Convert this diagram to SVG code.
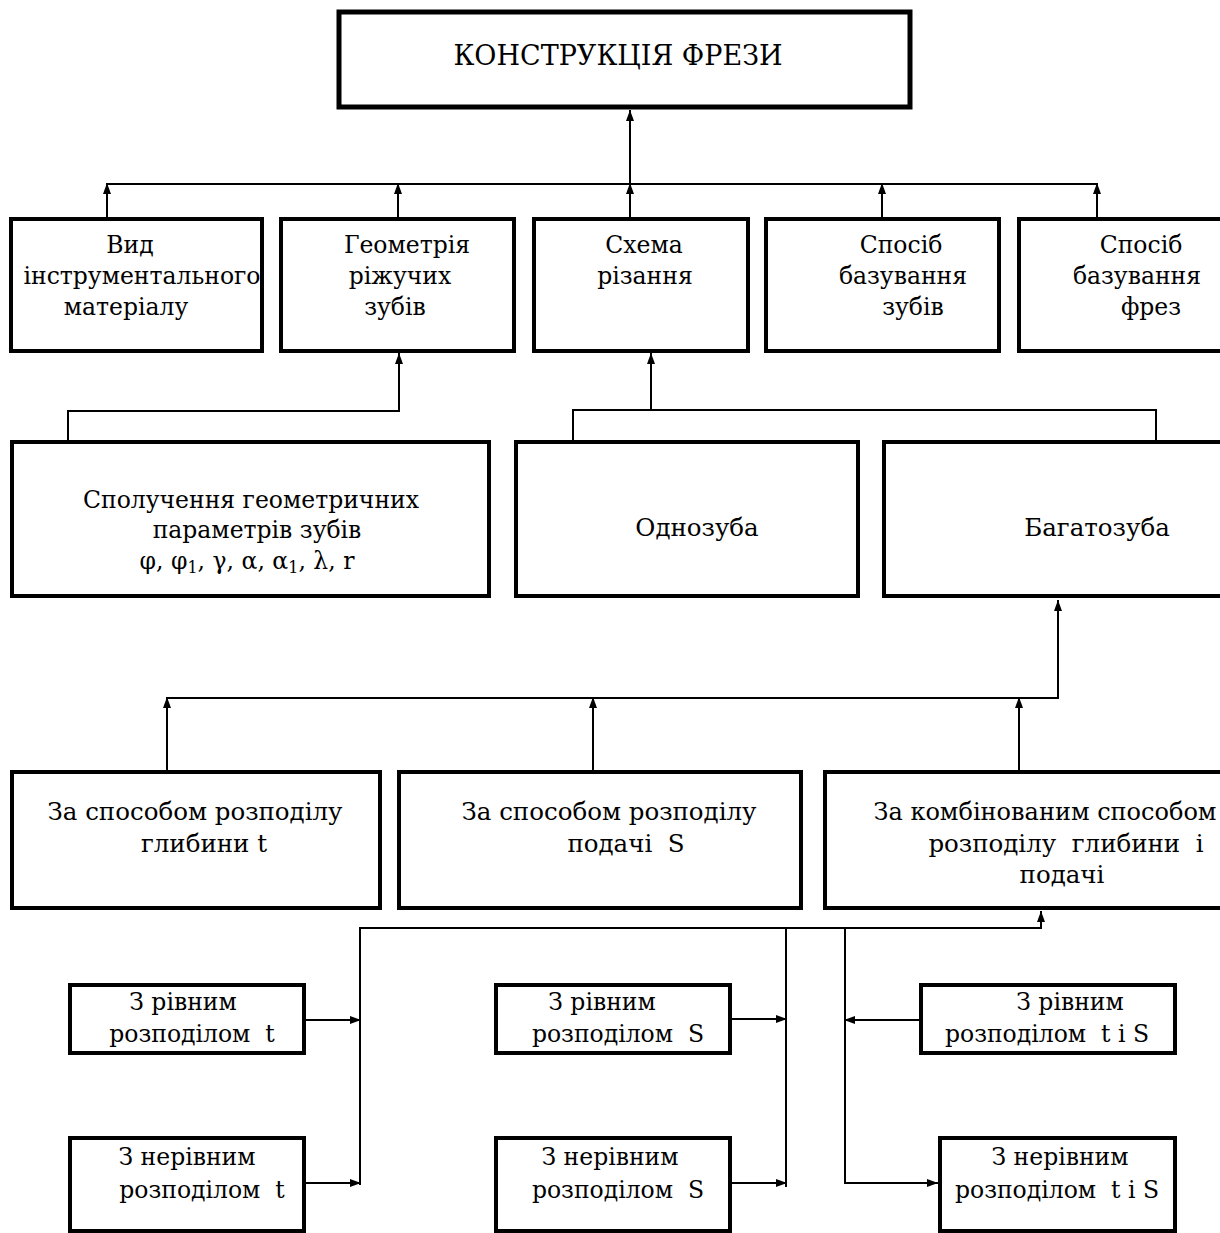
<svg xmlns="http://www.w3.org/2000/svg" width="1220" height="1233" viewBox="0 0 1220 1233">
<defs>
<marker id="ah" markerUnits="userSpaceOnUse" markerWidth="12" markerHeight="10" refX="11" refY="5" orient="auto">
<path d="M0,1 L11,5 L0,9 z" fill="#000"/>
</marker>
<style>
.box{fill:#fff;stroke:#000;stroke-width:4}
.ln{fill:none;stroke:#000;stroke-width:2}
.t{font-family:"DejaVu Serif","Liberation Serif",serif;font-size:23.5px;text-anchor:middle;fill:#000}
.b{font-size:24.5px}
</style>
</defs>
<rect width="1220" height="1233" fill="#fff"/>
<g id="connectors">
<line class="ln" x1="630" y1="184" x2="630" y2="110" marker-end="url(#ah)"/>
<line class="ln" x1="107" y1="184" x2="1097" y2="184"/>
<line class="ln" x1="107" y1="217" x2="107" y2="183" marker-end="url(#ah)"/>
<line class="ln" x1="398" y1="217" x2="398" y2="183" marker-end="url(#ah)"/>
<line class="ln" x1="630" y1="217" x2="630" y2="183" marker-end="url(#ah)"/>
<line class="ln" x1="882" y1="217" x2="882" y2="183" marker-end="url(#ah)"/>
<line class="ln" x1="1097" y1="217" x2="1097" y2="183" marker-end="url(#ah)"/>
<polyline class="ln" points="68,440 68,411 399,411 399,353" marker-end="url(#ah)"/>
<polyline class="ln" points="573,440 573,410 1156,410 1156,440"/>
<line class="ln" x1="651" y1="410" x2="651" y2="353" marker-end="url(#ah)"/>
<polyline class="ln" points="167,698 1058,698 1058,600" marker-end="url(#ah)"/>
<line class="ln" x1="167" y1="770" x2="167" y2="697" marker-end="url(#ah)"/>
<line class="ln" x1="593" y1="770" x2="593" y2="697" marker-end="url(#ah)"/>
<line class="ln" x1="1019" y1="770" x2="1019" y2="697" marker-end="url(#ah)"/>
<polyline class="ln" points="360,1185 360,928 1041,928 1041,911" marker-end="url(#ah)"/>
<line class="ln" x1="786" y1="928" x2="786" y2="1187"/>
<polyline class="ln" points="845,928 845,1183 938,1183" marker-end="url(#ah)"/>
<line class="ln" x1="306" y1="1020" x2="361" y2="1020" marker-end="url(#ah)"/>
<line class="ln" x1="306" y1="1183" x2="361" y2="1183" marker-end="url(#ah)"/>
<line class="ln" x1="732" y1="1019" x2="787" y2="1019" marker-end="url(#ah)"/>
<line class="ln" x1="732" y1="1183" x2="787" y2="1183" marker-end="url(#ah)"/>
<line class="ln" x1="919" y1="1020" x2="844" y2="1020" marker-end="url(#ah)"/>
</g>
<g id="n-top">
<rect class="box" x="339" y="12" width="571" height="95" style="stroke-width:5"/>
<text class="t" x="618" y="65" style="font-size:27px">КОНСТРУКЦІЯ ФРЕЗИ</text>
</g>
<g id="n-vid">
<rect class="box" x="11" y="219" width="251" height="132"/>
<text class="t" x="130" y="253">Вид</text>
<text class="t" x="142" y="284">інструментального</text>
<text class="t" x="126" y="315">матеріалу</text>
</g>
<g id="n-geom">
<rect class="box" x="281" y="219" width="233" height="132"/>
<text class="t" x="407" y="253">Геометрія</text>
<text class="t" x="400" y="284">ріжучих</text>
<text class="t" x="395" y="315">зубів</text>
</g>
<g id="n-schema">
<rect class="box" x="534" y="219" width="214" height="132"/>
<text class="t" x="644" y="253">Схема</text>
<text class="t" x="645" y="284">різання</text>
</g>
<g id="n-baz-zub">
<rect class="box" x="766" y="219" width="233" height="132"/>
<text class="t" x="901" y="253">Спосіб</text>
<text class="t" x="903" y="284">базування</text>
<text class="t" x="913" y="315">зубів</text>
</g>
<g id="n-baz-frez">
<rect class="box" x="1019" y="219" width="210" height="132"/>
<text class="t" x="1141" y="253">Спосіб</text>
<text class="t" x="1137" y="284">базування</text>
<text class="t" x="1151" y="315">фрез</text>
</g>
<g id="n-spol">
<rect class="box" x="12" y="442" width="477" height="154"/>
<text class="t" x="251" y="508">Сполучення геометричних</text>
<text class="t" x="257" y="538">параметрів зубів</text>
<text class="t" x="247" y="569">φ, φ<tspan font-size="16" dy="4">1</tspan><tspan dy="-4">, γ, α, α</tspan><tspan font-size="16" dy="4">1</tspan><tspan dy="-4">, λ, r</tspan></text>
</g>
<g id="n-odno">
<rect class="box" x="516" y="442" width="342" height="154"/>
<text class="t b" x="697" y="536">Однозуба</text>
</g>
<g id="n-bagato">
<rect class="box" x="884" y="442" width="345" height="154"/>
<text class="t b" x="1097" y="536">Багатозуба</text>
</g>
<g id="n-glyb">
<rect class="box" x="12" y="772" width="368" height="136"/>
<text class="t b" x="195" y="820">За способом розподілу</text>
<text class="t b" x="204" y="852">глибини t</text>
</g>
<g id="n-podachi">
<rect class="box" x="399" y="772" width="402" height="136"/>
<text class="t b" x="609" y="820">За способом розподілу</text>
<text class="t b" x="626" y="852">подачі&#160; S</text>
</g>
<g id="n-komb">
<rect class="box" x="825" y="772" width="404" height="136"/>
<text class="t" x="1045" y="820" style="font-size:24px">За комбінованим способом</text>
<text class="t b" x="1066" y="852">розподілу&#160; глибини&#160; і</text>
<text class="t b" x="1062" y="883">подачі</text>
</g>
<g id="n-l1">
<rect class="box" x="70" y="985" width="234" height="68"/>
<text class="t" x="183" y="1010">З рівним</text>
<text class="t" x="192" y="1042">розподілом&#160; t</text>
</g>
<g id="n-l2">
<rect class="box" x="70" y="1138" width="234" height="93"/>
<text class="t" x="187" y="1165">З нерівним</text>
<text class="t" x="202" y="1198">розподілом&#160; t</text>
</g>
<g id="n-m1">
<rect class="box" x="496" y="985" width="234" height="68"/>
<text class="t" x="602" y="1010">З рівним</text>
<text class="t" x="618" y="1042">розподілом&#160; S</text>
</g>
<g id="n-m2">
<rect class="box" x="496" y="1138" width="234" height="93"/>
<text class="t" x="610" y="1165">З нерівним</text>
<text class="t" x="618" y="1198">розподілом&#160; S</text>
</g>
<g id="n-r1">
<rect class="box" x="921" y="985" width="254" height="68"/>
<text class="t" x="1070" y="1010">З рівним</text>
<text class="t" x="1047" y="1042">розподілом&#160; t i S</text>
</g>
<g id="n-r2">
<rect class="box" x="940" y="1138" width="235" height="93"/>
<text class="t" x="1060" y="1165">З нерівним</text>
<text class="t" x="1057" y="1198">розподілом&#160; t i S</text>
</g>
</svg>
